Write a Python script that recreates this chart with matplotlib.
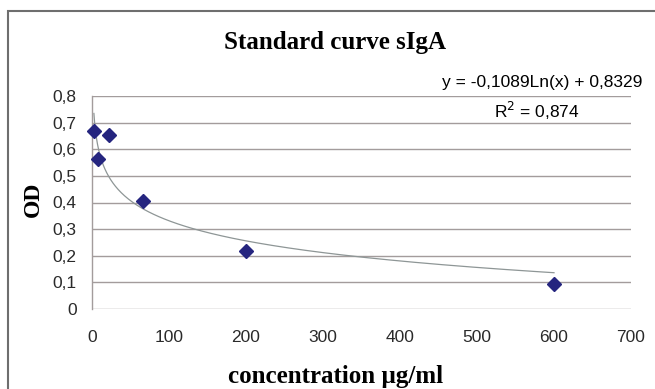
import matplotlib
matplotlib.use("Agg")
import matplotlib.pyplot as plt
import numpy as np

# data
conc = [2.47, 7.41, 22.2, 66.7, 200, 600]
od = [0.668, 0.562, 0.655, 0.405, 0.219, 0.093]

# trendline shown on the chart
slope = -0.1089
intercept = 0.8329
eq_text = "y = -0,1089Ln(x) + 0,8329"
r2_text = "R$^2$ = 0,874"

xticks = [0, 100, 200, 300, 400, 500, 600, 700]
yticks = [0, 0.1, 0.2, 0.3, 0.4, 0.5, 0.6, 0.7, 0.8]
ylabels = ["0", "0,1", "0,2", "0,3", "0,4", "0,5", "0,6", "0,7", "0,8"]

W, H = 655, 389
fig = plt.figure(figsize=(W / 100, H / 100), dpi=100)
ax = fig.add_axes([92 / W, 1 - 309 / H, (631 - 92) / W, (309 - 96) / H])

grid_col = "#a39c9c"
serif = "Liberation Serif"
sans = "Liberation Sans"

# trend curve
xt = np.geomspace(min(conc), max(conc), 200)
ax.plot(xt, slope * np.log(xt) + intercept, color="#8e9696", lw=0.9, zorder=2)

ax.plot(conc, od, linestyle="none", marker="D", ms=7.2,
        color="#25257f", mec="#25257f", zorder=3, clip_on=False)

ax.set_xlim(0, 700)
ax.set_ylim(0, 0.8)
ax.set_xticks(xticks)
ax.set_yticks(yticks)
ax.set_xticklabels([str(t) for t in xticks], fontsize=12.5, family=sans, color="#2a2a2a")
ax.set_yticklabels(ylabels, fontsize=12.5, family=sans, color="#2a2a2a")
ax.tick_params(axis="both", length=0)
ax.tick_params(axis="x", pad=15)
ax.tick_params(axis="y", pad=11)

for v in yticks:
    ax.axhline(v, color=grid_col, lw=1.0, zorder=1)
for s in ["top", "right", "bottom"]:
    ax.spines[s].set_visible(False)
ax.spines["left"].set_color(grid_col)
ax.spines["left"].set_linewidth(1.0)

fig.text(335 / W, 1 - 43 / H, "Standard curve sIgA", ha="center", va="center",
         fontsize=18, fontweight="bold", family=serif)
fig.text(336 / W, 1 - 377 / H, "concentration µg/ml", ha="center", va="center",
         fontsize=18, fontweight="bold", family=serif)
fig.text(33 / W, 1 - 199 / H, "OD", ha="center", va="center", rotation=90,
         fontsize=17, fontweight="bold", family=serif)

fig.text(642 / W, 1 - 83 / H, eq_text, ha="right", va="center", fontsize=12.5, family=sans)
fig.text(537 / W, 1 - 111 / H, r2_text, ha="center", va="center", fontsize=12.5, family=sans)

rect = plt.Rectangle((8 / W, -0.1), 1, 1.1 - 11 / H, fill=False, color="#6e6e6e",
                     lw=1.5, transform=fig.transFigure, figure=fig)
fig.patches.extend([rect])

plt.savefig("out.png", dpi=100)
